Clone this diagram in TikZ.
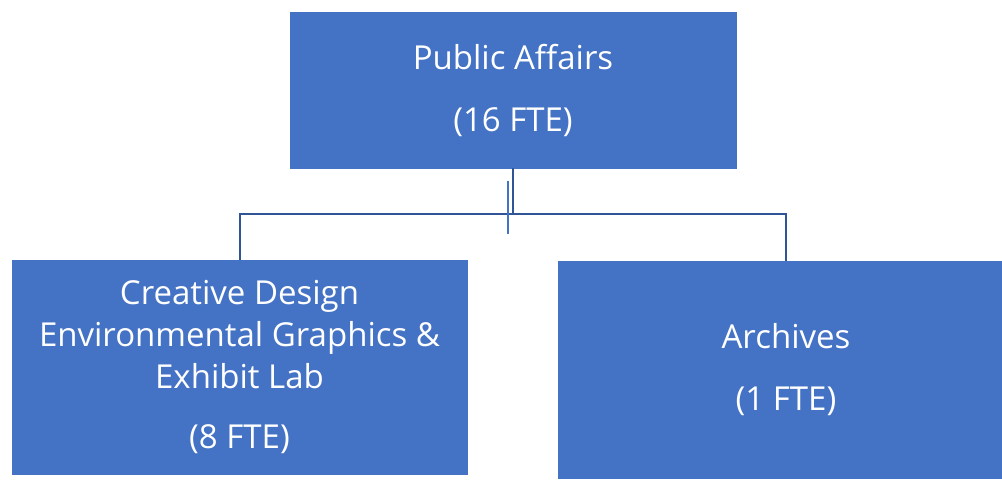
\documentclass[tikz,border=0pt]{standalone}
\usepackage{fontspec}
\setmainfont{Open Sans}
\usetikzlibrary{positioning,calc}
\definecolor{boxblue}{HTML}{4472C4}
\definecolor{linkblue}{HTML}{2F5597}

\begin{document}
\begin{tikzpicture}[
x=1pt,y=-1pt,
unit/.style={draw=boxblue,fill=boxblue,text=white,align=center,inner sep=0pt,
  font=\fontsize{33}{42}\selectfont},
link/.style={draw=linkblue,line width=2pt}]
\useasboundingbox[fill=white] (0,0) rectangle (1002,481);
\node[unit,minimum width=446pt,minimum height=156pt] (pa) at (513,90) {Public Affairs\\[20pt](16 FTE)};
\node[unit,minimum width=455pt,minimum height=214pt] (cd) at (239.5,367) {Creative Design\\Environmental Graphics \&\\Exhibit Lab\\[18pt](8 FTE)};
\node[unit,minimum width=456pt,minimum height=217pt] (ar) at (786,369.5) {Archives\\[20pt](1 FTE)};
\coordinate (split) at ($(pa.south)+(0,46)$);
\draw[link] (pa.south) -- (split);
\draw[link] (cd.north) |- (split) -| (ar.north);
\coordinate (stubtop) at (508,181);
\coordinate (stubbot) at (508,234);
\draw[draw=boxblue,line width=1.5pt] (stubtop) -- (stubbot);
\end{tikzpicture}
\end{document}
